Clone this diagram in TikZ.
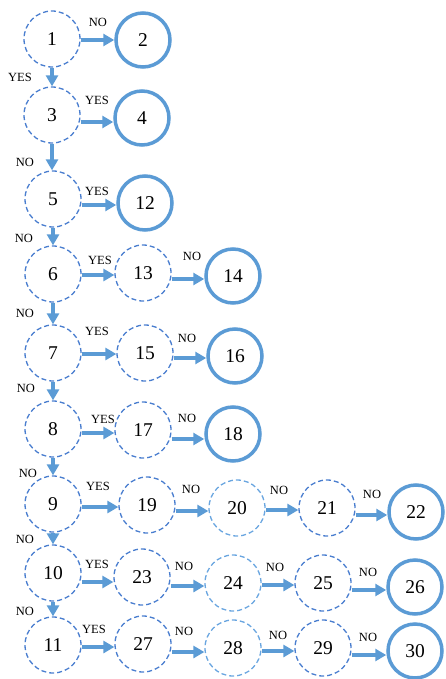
\documentclass[tikz,border=0pt]{standalone}
\usepackage{fontspec}
\setmainfont{Liberation Serif}
\usetikzlibrary{arrows.meta}
\definecolor{dashc}{HTML}{4A7ECF}
\definecolor{dashl}{HTML}{6AA6E0}
\definecolor{thickc}{HTML}{5B9BD5}
\begin{document}
\begin{tikzpicture}[x=1pt,y=-1pt,
  dnode/.style={circle,draw=dashc,line width=1.3pt,dash pattern=on 5pt off 3pt,minimum size=56pt,inner sep=0pt,font=\fontsize{19.5}{19.5}\selectfont},
  dlnode/.style={dnode,draw=dashl},
  tnode/.style={circle,draw=thickc,line width=3.5pt,minimum size=54pt,inner sep=0pt,font=\fontsize{19.5}{19.5}\selectfont},
  arr/.style={draw=thickc,line width=3.5pt,-{Triangle[length=11pt,width=12pt]}},
  lbl/.style={inner sep=0pt,font=\fontsize{12.5}{12.5}\selectfont}]
\useasboundingbox (0,0) rectangle (445,679);
% nodes
\node[dnode] (n1) at (52,39) {1};
\node[tnode] (n2) at (143,40) {2};
\node[dnode] (n3) at (52,115) {3};
\node[tnode] (n4) at (142,118) {4};
\node[dnode] (n5) at (53,199) {5};
\node[tnode] (n12) at (145,203) {12};
\node[dnode] (n6) at (53,274) {6};
\node[dnode] (n13) at (143,273) {13};
\node[tnode] (n14) at (233,276) {14};
\node[dnode] (n7) at (53,353) {7};
\node[dnode] (n15) at (145,353) {15};
\node[tnode] (n16) at (235,356) {16};
\node[dnode] (n8) at (53,429) {8};
\node[dnode] (n17) at (143,430) {17};
\node[tnode] (n18) at (233,434) {18};
\node[dnode] (n9) at (53,504) {9};
\node[dnode] (n19) at (147,505) {19};
\node[dlnode] (n20) at (237,508) {20};
\node[dnode] (n21) at (327,508) {21};
\node[tnode] (n22) at (416,512) {22};
\node[dnode] (n10) at (53,573) {10};
\node[dnode] (n23) at (142,577) {23};
\node[dlnode] (n24) at (233,583) {24};
\node[dnode] (n25) at (323,583) {25};
\node[tnode] (n26) at (415,587) {26};
\node[dnode] (n11) at (53,645) {11};
\node[dnode] (n27) at (143,644) {27};
\node[dlnode] (n28) at (233,648) {28};
\node[dnode] (n29) at (323,648) {29};
\node[tnode] (n30) at (415,651) {30};
% vertical arrows
\foreach \a/\b in {n1/n3,n3/n5,n5/n6,n6/n7,n7/n8,n8/n9,n9/n10,n10/n11}
  \draw[arr] (\a.south) -- (\a.south |- \b.north);
% horizontal arrows
\foreach \a/\b/\y in {n1/n2/40,n3/n4/122,n5/n12/205,n6/n13/275,n13/n14/279,n7/n15/354,n15/n16/358,n8/n17/433,n17/n18/439,n9/n19/507,n19/n20/511,n20/n21/510,n21/n22/515,n10/n23/582,n23/n24/586,n24/n25/585,n25/n26/590,n11/n27/647,n27/n28/652,n28/n29/651,n29/n30/655}
  \draw[arr] (\a.east |- 0,\y) -- (\b.west |- 0,\y);
% labels
\foreach \t/\x/\y [count=\i] in {NO/98/22,YES/20/77,YES/97/100,NO/25/162,YES/97/191,NO/24/238,YES/100/260,NO/192/256,NO/25/313,YES/97/331,NO/187/338,NO/26/388,YES/103/419,NO/187/418,NO/28/473,YES/98/486,NO/191/489,NO/279/490,NO/372/494,NO/25/539,YES/97/564,NO/184/566,NO/275/567,NO/368/572,NO/25/611,YES/94/629,NO/184/631,NO/278/635,NO/368/637}
  \node[lbl] (l\i) at (\x,\y) {\t};
\end{tikzpicture}
\end{document}
